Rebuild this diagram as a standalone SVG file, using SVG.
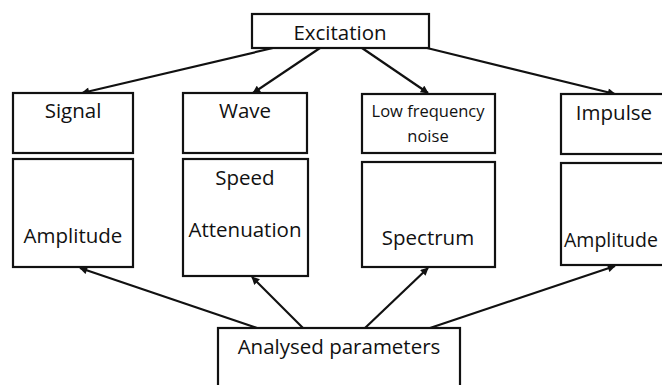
<svg xmlns="http://www.w3.org/2000/svg" width="662" height="385" viewBox="0 0 662 385">
<defs>
<marker id="ah" viewBox="0 0 10 10" refX="9" refY="5" markerWidth="9" markerHeight="8" orient="auto" markerUnits="userSpaceOnUse">
<path d="M0,0 L10,5 L0,10 z" fill="#111"/>
</marker>
</defs>
<style>
rect{fill:#fff;stroke:#111;stroke-width:2.2}
text{font-family:"Open Sans","Liberation Sans",sans-serif;font-size:20.5px;fill:#111;text-anchor:middle}
.sm{font-size:16.5px}
.c line{stroke:#111;stroke-width:2.2;marker-end:url(#ah)}
</style>
<rect width="662" height="385" style="fill:#fff;stroke:none"/>
<g class="c" id="connectors">
<line x1="273" y1="48" x2="82" y2="93"/>
<line x1="320" y1="48" x2="253" y2="93"/>
<line x1="362" y1="48" x2="428" y2="93"/>
<line x1="427" y1="48" x2="615" y2="94"/>
<line x1="257" y1="328" x2="80" y2="268"/>
<line x1="303" y1="328" x2="252" y2="277"/>
<line x1="365" y1="328" x2="428" y2="268"/>
<line x1="430" y1="328" x2="615" y2="266"/>
</g>
<g id="excitation"><rect x="252" y="14" width="177" height="34"/><text x="340" y="40">Excitation</text></g>
<g id="signal"><rect x="13" y="93" width="120" height="60"/><text x="73" y="118">Signal</text></g>
<g id="wave"><rect x="183" y="93" width="124" height="60"/><text x="245" y="118">Wave</text></g>
<g id="lfn"><rect x="362" y="94" width="133" height="59"/><text class="sm" x="428" y="117">Low frequency</text><text class="sm" x="428" y="142">noise</text></g>
<g id="impulse"><rect x="561" y="94" width="110" height="60"/><text x="614" y="120">Impulse</text></g>
<g id="amp1"><rect x="13" y="159" width="120" height="108"/><text x="73" y="243">Amplitude</text></g>
<g id="speed"><rect x="183" y="159" width="125" height="117"/><text x="245" y="185">Speed</text><text x="245" y="237">Attenuation</text></g>
<g id="spectrum"><rect x="362" y="162" width="133" height="105"/><text x="428" y="245">Spectrum</text></g>
<g id="amp2"><rect x="561" y="163" width="110" height="102"/><text x="564" y="247" style="text-anchor:start;font-size:19.5px">Amplitude</text></g>
<g id="analysed"><rect x="218" y="328" width="242" height="70"/><text x="339" y="354">Analysed parameters</text></g>
</svg>
